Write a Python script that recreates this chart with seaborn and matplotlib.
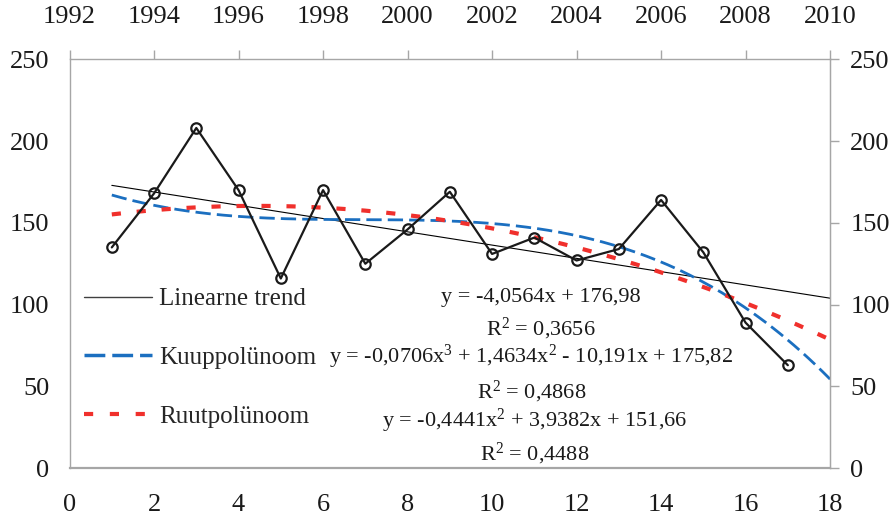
import numpy as np
import pandas as pd
import seaborn as sns
import matplotlib.pyplot as plt
from matplotlib.lines import Line2D

# data (x = aasta - 1992)
x_vals = [1, 2, 3, 4, 5, 6, 7, 8, 9, 10, 11, 12, 13, 14, 15, 16, 17]
y_vals = [135, 168, 208, 170, 116, 170, 125, 146, 169, 131, 141, 127, 134, 164, 132, 89, 63]
year_ticks = [1992, 1994, 1996, 1998, 2000, 2002, 2004, 2006, 2008, 2010]
trend_labels = ['Linearne trend', 'Kuuppolünoom', 'Ruutpolünoom']
eq_texts = ['y = -4,0564x + 176,98', 'R$^2$ = 0,3656',
            'y = -0,0706x$^3$ + 1,4634x$^2$ - 10,191x + 175,82', 'R$^2$ = 0,4868',
            'y = -0,4441x$^2$ + 3,9382x + 151,66', 'R$^2$ = 0,4488']

sns.set_style('white')
plt.rcParams['font.family'] = ['Liberation Serif', 'DejaVu Serif']
plt.rcParams['mathtext.fontset'] = 'custom'
plt.rcParams['mathtext.rm'] = 'Liberation Serif'
plt.rcParams['mathtext.it'] = 'Liberation Serif'
plt.rcParams['mathtext.default'] = 'regular'

grey = '#a6a6a6'
blue = '#1b6fc0'
red = '#f0302c'

fig = plt.figure(figsize=(8.94, 5.22), dpi=100)
ax = fig.add_axes([0.0778, 0.1029, 0.8507, 0.7836])

df = pd.DataFrame({'x': x_vals, 'y': y_vals})

# trendlines fitted to the data, like the spreadsheet does
xs = np.linspace(1, 18, 200)
lin = np.polyval(np.polyfit(x_vals, y_vals, 1), xs)
cub = np.polyval(np.polyfit(x_vals, y_vals, 3), xs)
quad = np.polyval(np.polyfit(x_vals, y_vals, 2), xs)

sns.lineplot(x=xs, y=lin, ax=ax, color='black', linewidth=0.8)
sns.lineplot(x=xs, y=cub, ax=ax, color=blue, linewidth=2.0,
             linestyle=(0, (5.5, 2.2)))
sns.lineplot(x=xs, y=quad, ax=ax, color=red, linewidth=3.0,
             linestyle=(0, (2.2, 3.8)))
sns.lineplot(data=df, x='x', y='y', ax=ax, color='#1a1a1a', linewidth=1.6,
             marker='o', markersize=7.5, markerfacecolor='none',
             markeredgecolor='#1a1a1a', markeredgewidth=1.6)

ax.set_xlim(0, 18)
ax.set_ylim(0, 250)
ax.set_xticks(range(0, 19, 2))
ax.set_yticks(range(0, 251, 50))
ax.set_xlabel('')
ax.set_ylabel('')
for s in ax.spines.values():
    s.set_color(grey)
    s.set_linewidth(1.0)
ax.spines['bottom'].set_linewidth(1.6)
ax.tick_params(axis='both', direction='out', length=6.5, width=1.0, color=grey,
               labelsize=19, labelcolor='#1a1a1a')
ax.tick_params(axis='x', pad=12)
ax.tick_params(axis='y', pad=8)

top = ax.secondary_xaxis('top', functions=(lambda v: v + 1992, lambda v: v - 1992))
top.set_xticks(year_ticks)
top.tick_params(direction='out', length=6.5, width=1.0, color=grey,
                labelsize=19, pad=16, labelcolor='#1a1a1a')
top.spines['top'].set_visible(False)

right = ax.secondary_yaxis('right')
right.set_yticks(range(0, 251, 50))
right.tick_params(direction='out', length=6.5, width=1.0, color=grey,
                  labelsize=19, pad=8, labelcolor='#1a1a1a')
right.spines['right'].set_color(grey)

handles = [
    Line2D([], [], color='#404040', linewidth=1.0),
    Line2D([], [], color=blue, linewidth=2.5, linestyle=(0, (6.0, 2.0))),
    Line2D([], [], color=red, linewidth=3.0, linestyle=(0, (2.2, 4.0))),
]
ax.legend(handles, trend_labels, loc='center left', bbox_to_anchor=(0.019, 0.27),
          frameon=False, fontsize=18, handlelength=2.7, handletextpad=0.3,
          labelspacing=1.45, borderpad=0, borderaxespad=0)

eq_pos = [(0.619, 0.407), (0.619, 0.326), (0.607, 0.257),
          (0.607, 0.172), (0.612, 0.101), (0.612, 0.020)]
for (px, py), t in zip(eq_pos, eq_texts):
    ax.text(px, py, t, transform=ax.transAxes, ha='center', va='baseline',
            fontsize=16, color='#1a1a1a')

fig.savefig('out.png', dpi=100)
